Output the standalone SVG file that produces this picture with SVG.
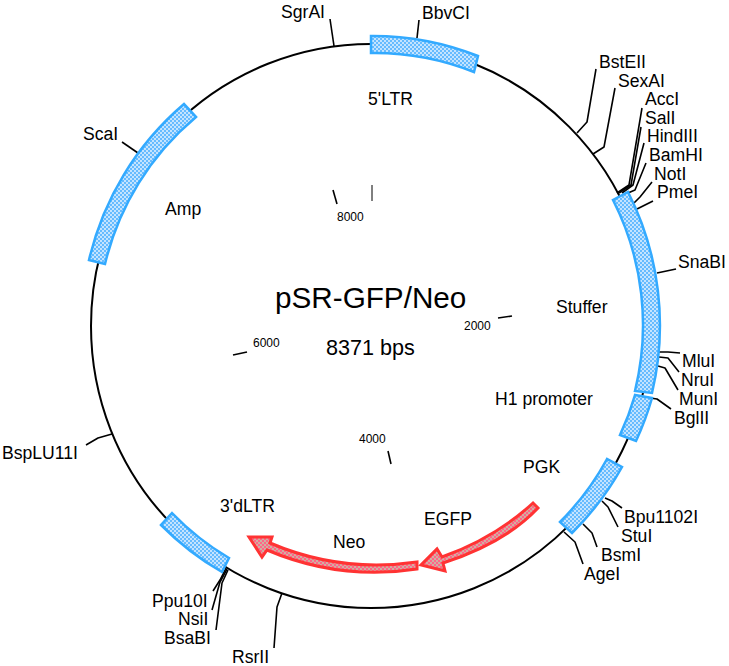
<svg xmlns="http://www.w3.org/2000/svg" width="729" height="666" viewBox="0 0 729 666">
<style>
text{font-family:"Liberation Sans",Arial,sans-serif;font-size:17.6px;fill:#000}
.t{font-size:12px}
.c{fill:none;stroke:#000;stroke-width:1.6;stroke-linejoin:round}
.b{fill:url(#bd);stroke:#33aaff;stroke-width:2.5}
.r{fill:url(#rd);stroke:#ff3333;stroke-width:3;stroke-linejoin:miter}
</style>
<defs>
<pattern id="bd" width="4" height="4" patternUnits="userSpaceOnUse"><rect width="4" height="4" fill="#66bbff"/><path d="M0 0h2v2h-2zM2 2h2v2h-2z" fill="#c4e4ff"/></pattern>
<pattern id="rd" width="4" height="4" patternUnits="userSpaceOnUse"><rect width="4" height="4" fill="#ff6688"/><path d="M0 0h2v2h-2zM2 2h2v2h-2z" fill="#d0b0a0"/></pattern>
</defs>
<rect width="729" height="666" fill="#fff"/>
<g id="backbone"><ellipse cx="371" cy="326" rx="280" ry="282" fill="none" stroke="#000" stroke-width="2"/></g>
<g id="connectors">
<polyline class="c" points="330,19 334,46"/>
<polyline class="c" points="419,20 417,38"/>
<polyline class="c" points="122,142 138,153"/>
<polyline class="c" points="596,69 587,122 577,133"/>
<polyline class="c" points="615,88 604,147 593,154"/>
<polyline class="c" points="642,108 629,185 617,193"/>
<polyline class="c" points="641,127 631,185 619,193"/>
<polyline class="c" points="644,143 633,185 622,193"/>
<polyline class="c" points="646,163 635,190 628,193"/>
<polyline class="c" points="652,182 640,197 634,203"/>
<polyline class="c" points="653,201 637,209"/>
<polyline class="c" points="676,269 657,273"/>
<polyline class="c" points="680,353 668,352 659,352"/>
<polyline class="c" points="679,372 668,358 659,357"/>
<polyline class="c" points="678,390 665,368 658,366"/>
<polyline class="c" points="671,409 657,399 643,397"/>
<polyline class="c" points="622,508 612,501 605,498"/>
<polyline class="c" points="618,527 608,507 602,501"/>
<polyline class="c" points="597,547 592,533 583,524"/>
<polyline class="c" points="583,564 575,542 564,532"/>
<polyline class="c" points="274,648 277,607 282,593"/>
<polyline class="c" points="216,630 222,583 228,570"/>
<polyline class="c" points="212,610 220,582 227,569"/>
<polyline class="c" points="213,591 220,580 226,568"/>
<polyline class="c" points="86,445 98,438 112,434"/>
<line class="c" x1="333" y1="190" x2="337" y2="204"/>
<line class="c" x1="372" y1="185" x2="372" y2="201" style="stroke-width:1"/>
<line class="c" x1="498" y1="318" x2="512" y2="316"/>
<line class="c" x1="233" y1="355" x2="247" y2="352"/>
<line class="c" x1="388" y1="451" x2="391" y2="464"/>
</g>
<g id="seg-5LTR"><path class="b" d="M371,36 A288,290 0 0 1 478,56 L474,72 A270,272 0 0 0 371,53 Z"/><text x="368" y="105">5'LTR</text></g>
<g id="seg-Amp"><path class="b" d="M184,104 A290,292 0 0 0 89,260 L105,264 A272,274 0 0 1 196,117 Z"/><text x="165" y="215">Amp</text></g>
<g id="seg-Stuffer"><path class="b" d="M628,192 A290,292 0 0 1 652,393 L635,391 A272,274 0 0 0 613,200 Z"/><text x="556" y="313">Stuffer</text></g>
<g id="seg-H1"><path class="b" d="M652,398 A290,292 0 0 1 636,441 L620,435 A272,274 0 0 0 635,395 Z"/><text x="495" y="405">H1 promoter</text></g>
<g id="seg-PGK"><path class="b" d="M622,467 A290,292 0 0 1 572,533 L560,522 A272,274 0 0 0 607,459 Z"/><text x="523" y="473">PGK</text></g>
<g id="seg-3dLTR"><path class="b" d="M172,513 L161,525 A290,292 0 0 0 222,572 L229,558 A272,274 0 0 1 172,513 Z"/><text x="220" y="512">3'dLTR</text></g>
<g id="arrow-EGFP"><path class="r" d="M533,503 Q495,538 442,557 L437,549 L421,565 L445,571 L443,563 Q505,543 538,508 Z"/><text x="424" y="525">EGFP</text></g>
<g id="arrow-Neo"><path class="r" d="M417,562 Q340,573 270,543 L272,537 L249,537 L262,557 L267,550 Q340,581 417,569 Z"/><text x="333" y="548">Neo</text></g>
<g id="sites">
<g id="SgrAI"><text x="281" y="18">SgrAI</text></g>
<g id="BbvCI"><text x="422" y="19">BbvCI</text></g>
<g id="ScaI"><text x="83" y="140">ScaI</text></g>
<g id="BstEII"><text x="599" y="68">BstEII</text></g>
<g id="SexAI"><text x="618" y="87">SexAI</text></g>
<g id="AccI"><text x="645" y="105">AccI</text></g>
<g id="SalI"><text x="645" y="124">SalI</text></g>
<g id="HindIII"><text x="647" y="142">HindIII</text></g>
<g id="BamHI"><text x="649" y="161">BamHI</text></g>
<g id="NotI"><text x="654" y="180">NotI</text></g>
<g id="PmeI"><text x="657" y="198">PmeI</text></g>
<g id="SnaBI"><text x="678" y="268">SnaBI</text></g>
<g id="MluI"><text x="682" y="367">MluI</text></g>
<g id="NruI"><text x="681" y="386">NruI</text></g>
<g id="MunI"><text x="679" y="405">MunI</text></g>
<g id="BglII"><text x="674" y="424">BglII</text></g>
<g id="Bpu1102I"><text x="624" y="523">Bpu1102I</text></g>
<g id="StuI"><text x="621" y="542">StuI</text></g>
<g id="BsmI"><text x="601" y="561">BsmI</text></g>
<g id="AgeI"><text x="584" y="580">AgeI</text></g>
<g id="RsrII"><text x="232" y="663">RsrII</text></g>
<g id="BsaBI"><text x="164" y="644">BsaBI</text></g>
<g id="NsiI"><text x="178" y="625">NsiI</text></g>
<g id="Ppu10I"><text x="152" y="607">Ppu10I</text></g>
<g id="BspLU11I"><text x="2" y="459">BspLU11I</text></g>
</g>
<g id="center">
<text x="275" y="308" style="font-size:29.7px">pSR-GFP/Neo</text>
<text x="326" y="355" style="font-size:21.6px">8371 bps</text>
<text class="t" x="337" y="221">8000</text>
<text class="t" x="464" y="330">2000</text>
<text class="t" x="253" y="347">6000</text>
<text class="t" x="359" y="443">4000</text>
</g>
</svg>
